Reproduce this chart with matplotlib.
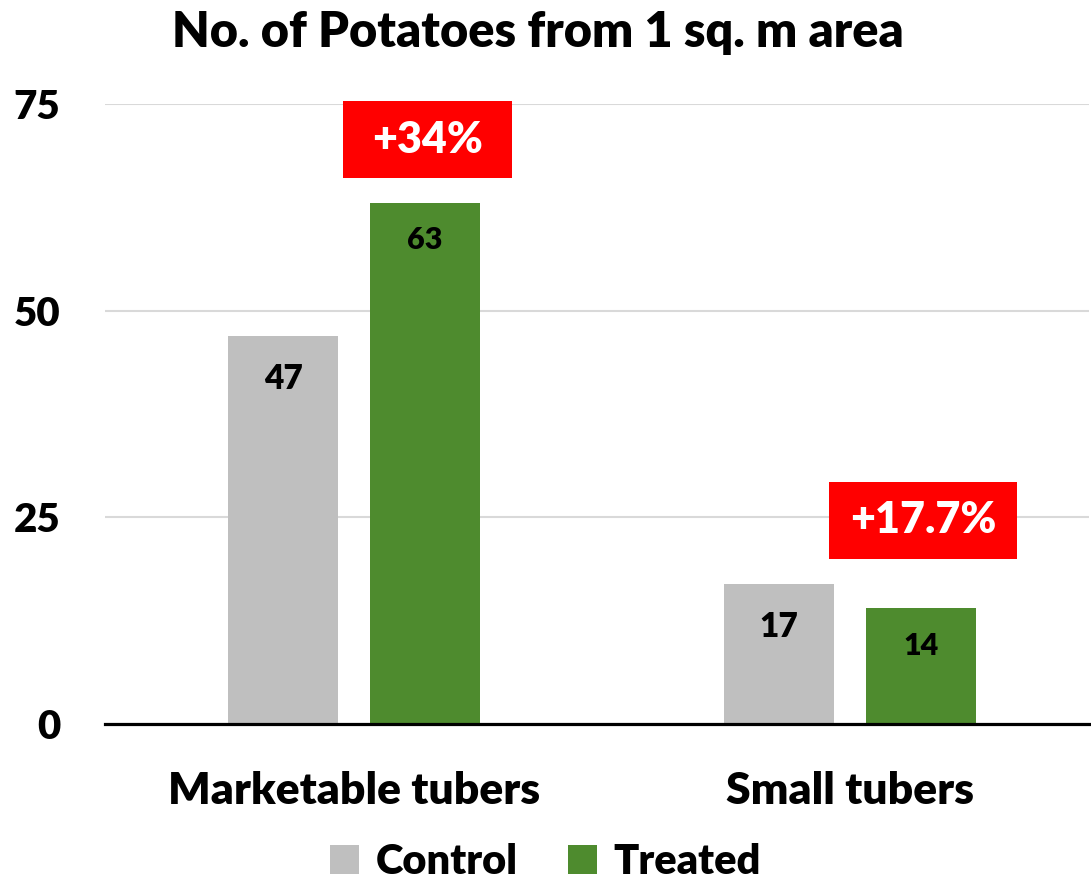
import matplotlib.pyplot as plt
from matplotlib.patches import Rectangle

# data
categories = ["Marketable tubers", "Small tubers"]
control = [47, 17]
treated = [63, 14]
increase_labels = ["+34%", "+17.7%"]
yticks = [0, 25, 50, 75]

plt.rcParams['font.family'] = ['Lato', 'DejaVu Sans']
plt.rcParams['font.weight'] = 'heavy'

grey = "#bfbfbf"
green = "#4e8b2e"
W = "heavy"

fig = plt.figure(figsize=(10.91, 8.81), dpi=100)
ax = fig.add_axes([0.0962, 0.178, 0.902, 0.704])

x = list(range(len(categories)))
w = 0.222
off = 0.143

b1 = ax.bar([i - off for i in x], control, width=w, color=grey, zorder=2, label="Control")
b2 = ax.bar([i + off for i in x], treated, width=w, color=green, zorder=2, label="Treated")

# value labels inside bars
for i, v in enumerate(control):
    ax.text(i - off, v - 5.2, str(v), ha="center", va="center", fontsize=24, fontweight=W, color="black")
for i, v in enumerate(treated):
    ax.text(i + off, v - 4.5, str(v), ha="center", va="center", fontsize=22, fontweight=W, color="black")

# red increase boxes above treated bars
box_w = [0.34, 0.379]
box_h = 9.3
for i, lab in enumerate(increase_labels):
    base = max(control[i], treated[i]) + 3
    cx = i + off + 0.005
    ax.add_patch(Rectangle((cx - box_w[i] / 2, base), box_w[i], box_h,
                           facecolor="#ff0000", edgecolor="none", zorder=3, clip_on=False))
    ax.text(cx, base + box_h / 2, lab, ha="center", va="center", fontsize=31,
            fontweight=W, color="white", zorder=4)

ax.set_xlim(-0.502, 1.482)
ax.set_ylim(0, 75)
ax.set_yticks(yticks)
ax.set_xticks(x)
ax.set_xticklabels(categories, fontsize=32, fontweight=W)
ax.tick_params(axis="x", length=0, pad=34)
ax.tick_params(axis="y", length=0, pad=32, labelsize=29)
for t in ax.get_yticklabels():
    t.set_fontweight(W)

ax.yaxis.grid(True, color="#d9d9d9", linewidth=1.5, zorder=0)
ax.set_axisbelow(True)
for s in ["top", "right", "left"]:
    ax.spines[s].set_visible(False)
ax.spines["bottom"].set_linewidth(2.3)
ax.spines["bottom"].set_zorder(5)

fig.suptitle("No. of Potatoes from 1 sq. m area", x=0.493, y=0.989, fontsize=35, fontweight=W)

fig.legend(handles=[b1, b2], loc="center", bbox_to_anchor=(0.5, 0.021), ncol=2, frameon=False,
           handlelength=0.7, handleheight=0.7, handletextpad=0.4, columnspacing=1.2,
           prop={"weight": W, "size": 30})

fig.savefig("out.png", dpi=100)
